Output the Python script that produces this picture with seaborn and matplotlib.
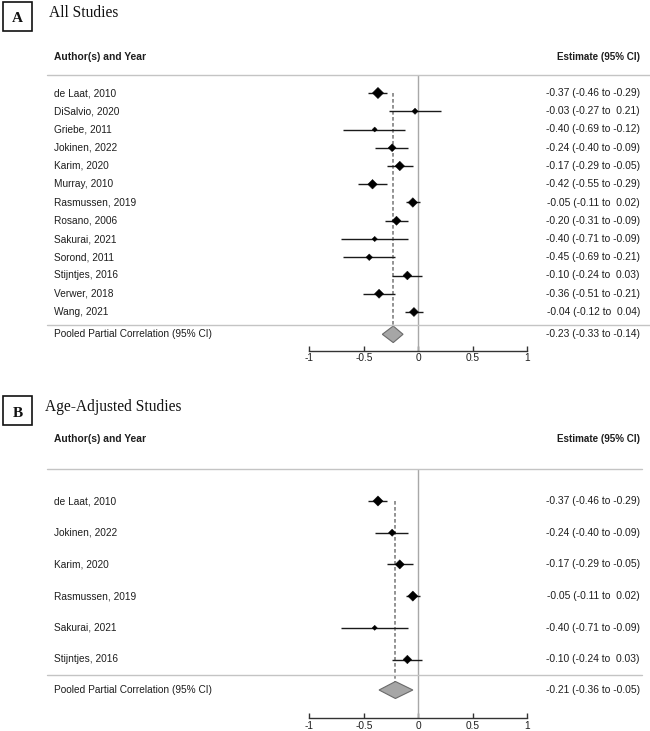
import numpy as np
import pandas as pd
import matplotlib
matplotlib.use("Agg")
import matplotlib.pyplot as plt
import matplotlib.transforms as mtransforms
from matplotlib.patches import Polygon, Rectangle
from matplotlib.lines import Line2D
import seaborn as sns

# ---------------- data ----------------
studies_a = ["de Laat, 2010", "DiSalvio, 2020", "Griebe, 2011", "Jokinen, 2022",
             "Karim, 2020", "Murray, 2010", "Rasmussen, 2019", "Rosano, 2006",
             "Sakurai, 2021", "Sorond, 2011", "Stijntjes, 2016", "Verwer, 2018",
             "Wang, 2021"]
est_a = [-0.37, -0.03, -0.40, -0.24, -0.17, -0.42, -0.05, -0.20, -0.40, -0.45, -0.10, -0.36, -0.04]
lo_a = [-0.46, -0.27, -0.69, -0.40, -0.29, -0.55, -0.11, -0.31, -0.71, -0.69, -0.24, -0.51, -0.12]
hi_a = [-0.29, 0.21, -0.12, -0.09, -0.05, -0.29, 0.02, -0.09, -0.09, -0.21, 0.03, -0.21, 0.04]
weights_a = [13.7, 4.2, 2.7, 6.7, 9.9, 9.9, 9.9, 8.9, 3.0, 4.7, 8.3, 8.9, 8.9]
pooled_a = [-0.23, -0.33, -0.14]

studies_b = ["de Laat, 2010", "Jokinen, 2022", "Karim, 2020", "Rasmussen, 2019",
             "Sakurai, 2021", "Stijntjes, 2016"]
est_b = [-0.37, -0.24, -0.17, -0.05, -0.40, -0.10]
lo_b = [-0.46, -0.40, -0.29, -0.11, -0.71, -0.24]
hi_b = [-0.29, -0.09, -0.05, 0.02, -0.09, 0.03]
weights_b = [23.4, 11.7, 19.3, 23.4, 5.8, 16.4]
pooled_b = [-0.21, -0.36, -0.05]

tick_values = [-1, -0.5, 0, 0.5, 1]
tick_labels = ["-1", "-0.5", "0", "0.5", "1"]

pooled_label = "Pooled Partial Correlation (95% CI)"
header_left = "Author(s) and Year"
header_right = "Estimate (95% CI)"

# ---------------- style ----------------
sns.set_theme(style="white")
plt.rcParams['font.family'] = ['Liberation Sans', 'DejaVu Sans']
SERIF = ['Liberation Serif', 'DejaVu Serif']
TXT = "#1e1e1e"

W, H = 650, 731
fig = plt.figure(figsize=(6.5, 7.31), dpi=100)


def px(x):
    return x / W


def py(y):
    return 1 - y / H


X0, X1 = 309.3, 527.3  # pixel positions of -1 and 1


def fmt(e, l, h):
    return f"{e:.2f} ({l:.2f} to {h:5.2f})"


def panel(letter, title, studies, est, lo, hi, weights, pooled, L):
    n = len(studies)
    step = L["step"]

    def d(p):
        return (p - L["row0"]) / step

    ax = fig.add_axes([px(X0), py(L["axis_y"]), (X1 - X0) / W, (L["axis_y"] - L["line_y"]) / H])
    ax.patch.set_alpha(0)
    ax.set_xlim(-1, 1)
    ax.set_ylim(d(L["axis_y"]), d(L["line_y"]))

    df = pd.DataFrame({"study": studies, "est": est, "lo": lo, "hi": hi,
                       "weight": weights, "row": np.arange(n)})
    prow = d(L["pooled_y"])
    hh = L["dia_hh"] / step

    # zero line and pooled dashed line
    ax.axvline(0, color="#a8a8a8", lw=1.0, zorder=1)
    ax.vlines(pooled[0], 0, prow - hh, colors="#808080", lw=1.2,
              linestyles=(0, (2.2, 1.4)), zorder=1)

    # CIs
    ax.hlines(df["row"], df["lo"], df["hi"], colors="#1a1a1a", lw=1.0, zorder=2)
    wmax = 100.0
    sns.scatterplot(data=df, x="est", y="row", size="weight",
                    sizes=(0, wmax * L["sfac"]), size_norm=(0, wmax),
                    marker="D", color="black", edgecolor="black", linewidth=0.3,
                    legend=False, ax=ax, zorder=3)

    # pooled diamond
    pe, pl, ph = pooled
    dia = Polygon([(pl, prow), (pe, prow - hh), (ph, prow), (pe, prow + hh)],
                  closed=True, facecolor="#a6a6a6", edgecolor="#6a6a6a", lw=0.8, zorder=3)
    ax.add_patch(dia)

    # axes styling
    for s in ["top", "left", "right"]:
        ax.spines[s].set_visible(False)
    ax.spines["bottom"].set_color("#333333")
    ax.spines["bottom"].set_linewidth(1.0)
    ax.spines["bottom"].set_bounds(-1, 1)
    ax.set_xticks(tick_values)
    ax.set_xticklabels(tick_labels)
    ax.set_yticks([])
    ax.set_xlabel("")
    ax.set_ylabel("")
    ax.tick_params(axis="x", direction="in", length=3.5, width=1.0, color="#333333",
                   labelsize=7.3, pad=2.0, labelcolor=TXT, bottom=True)
    ax.grid(False)

    trans = mtransforms.blended_transform_factory(fig.transFigure, ax.transData)
    for i, row in df.iterrows():
        ax.text(px(54), row["row"], row["study"], transform=trans, ha="left", va="center",
                fontsize=7.3, color=TXT)
        ax.text(px(640), row["row"], fmt(row["est"], row["lo"], row["hi"]), transform=trans,
                ha="right", va="center", fontsize=7.4, color=TXT)
    ax.text(px(54), prow, pooled_label, transform=trans, ha="left", va="center",
            fontsize=7.3, color=TXT)
    ax.text(px(640), prow, fmt(pe, pl, ph), transform=trans, ha="right", va="center",
            fontsize=7.4, color=TXT)

    # horizontal rules
    for yy in (L["line_y"], L["sep_y"]):
        fig.add_artist(Line2D([px(47), px(L["rule_end"])], [py(yy), py(yy)],
                              color="#c4c4c4", lw=1.0))

    # headers
    fig.text(px(54), py(L["header_y"]), header_left, ha="left", va="center",
             fontsize=7.4, fontweight="bold", color=TXT)
    fig.text(px(640), py(L["header_y"]), header_right, ha="right", va="center",
             fontsize=7.1, fontweight="bold", color=TXT)

    # panel letter box and title
    b0, b1 = L["box"]
    fig.add_artist(Rectangle((px(3), py(b1)), px(29), (b1 - b0) / H, transform=fig.transFigure,
                             fill=False, edgecolor="#111111", lw=1.2))
    fig.text(px(17.5), py(L["letter_base"]), letter, ha="center", va="baseline",
             fontsize=11, fontweight="bold", family=SERIF, color="#111111")
    fig.text(px(L["title_x"]), py(L["title_base"]), title, ha="left", va="baseline",
             fontsize=11.2, family=SERIF, color="#111111")
    return ax


layout_a = dict(step=18.25, row0=93.0, line_y=75.0, sep_y=325.3, pooled_y=334.3,
                axis_y=350.7, dia_hh=8.3, sfac=2.4, header_y=57.0, rule_end=650,
                box=(2, 31), letter_base=22, title_x=49, title_base=17)
layout_b = dict(step=31.7, row0=501.0, line_y=469.0, sep_y=674.5, pooled_y=690.0,
                axis_y=718.0, dia_hh=8.5, sfac=1.15, header_y=438.5, rule_end=642,
                box=(396, 425), letter_base=417, title_x=45, title_base=411)

panel("A", "All Studies", studies_a, est_a, lo_a, hi_a, weights_a, pooled_a, layout_a)
panel("B", "Age-Adjusted Studies", studies_b, est_b, lo_b, hi_b, weights_b, pooled_b, layout_b)

fig.savefig("out.png", dpi=100, facecolor="white")
